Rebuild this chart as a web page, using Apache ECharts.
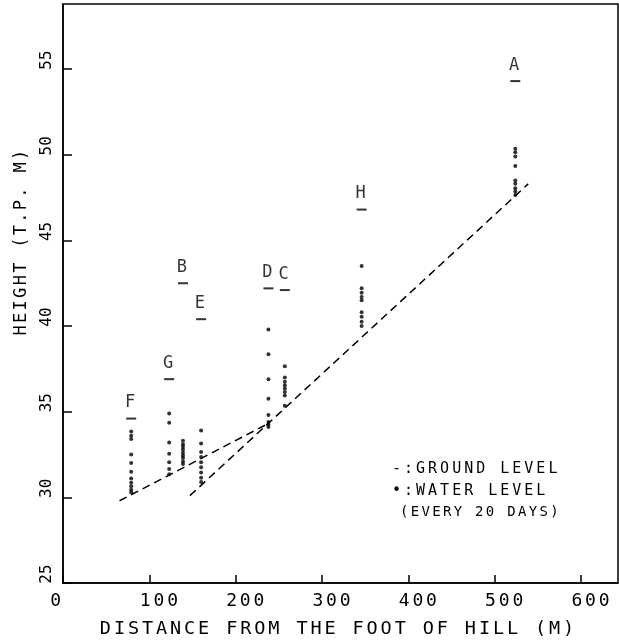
<!DOCTYPE html>
<html>
<head>
<meta charset="utf-8">
<script src="https://cdn.jsdelivr.net/npm/echarts@6/dist/echarts.min.js"></script>
<style>
  html, body { margin: 0; padding: 0; background: #fff; }
  #chart { width: 619px; height: 641px; }
</style>
</head>
<body>
<div id="chart"></div>
<script>
// Observation wells along the slope: name, distance from the foot of the hill (m), ground level (m)
const stations = ['F', 'G', 'B', 'E', 'D', 'C', 'H', 'A'];
const distances = [79, 123, 139, 160, 238, 257, 346, 524];
const groundLevels = [34.6, 36.9, 42.5, 40.4, 42.2, 42.1, 46.8, 54.3];

// Water level readings, one every 20 days (m)
const waterF = [33.85, 33.6, 33.4, 32.5, 32.0, 31.5, 31.1, 30.85, 30.65, 30.45, 30.3];
const waterG = [34.9, 34.35, 33.2, 32.55, 32.05, 31.65, 31.35];
const waterB = [33.3, 33.1, 32.95, 32.8, 32.6, 32.45, 32.3, 32.1, 31.95];
const waterE = [33.9, 33.15, 32.65, 32.35, 32.05, 31.75, 31.45, 31.15, 30.9];
const waterD = [39.8, 38.35, 36.9, 35.75, 34.8, 34.4, 34.25, 34.1];
const waterC = [37.65, 37.0, 36.75, 36.55, 36.35, 36.15, 35.95, 35.35];
const waterH = [43.5, 42.2, 41.95, 41.7, 41.5, 40.8, 40.55, 40.25, 40.0];
const waterA = [50.35, 50.15, 49.9, 49.35, 48.5, 48.3, 48.05, 47.85, 47.65];

// Dashed slope profiles
const profileLower = [[65.5, 29.8], [237.6, 34.3]];
const profileUpper = [[147, 30.1], [539, 48.3]];

// Axis ticks
const xTicks = [0, 100, 200, 300, 400, 500, 600];
const yTicks = [25, 30, 35, 40, 45, 50, 55];

const legendLines = ['-:GROUND LEVEL', '\u2022:WATER LEVEL', '(EVERY 20 DAYS)'];

// Plotter-style lettering: wide tracking, keyed by font size
const TRACKING = { 14: 2.3, 15: 3.0, 16: 0, 17: 2.3, 18: 2.8, 18.5: 2.9 };
(function () {
  const proto = CanvasRenderingContext2D.prototype;
  const desc = Object.getOwnPropertyDescriptor(proto, 'font');
  if (!desc || !('letterSpacing' in proto)) return;
  Object.defineProperty(proto, 'font', {
    configurable: true,
    get() { return desc.get.call(this); },
    set(v) {
      desc.set.call(this, v);
      const m = /(\d+(?:\.\d+)?)px/.exec(v);
      const size = m ? parseFloat(m[1]) : 12;
      this.letterSpacing = (TRACKING[size] || 0) + 'px';
    }
  });
})();

const FONT = '"DejaVu Sans Mono", monospace';

const waterSets = [waterF, waterG, waterB, waterE, waterD, waterC, waterH, waterA];
const waterPoints = [];
waterSets.forEach((vals, i) => vals.forEach(v => waterPoints.push([distances[i], v])));
const groundPoints = stations.map((s, i) => ({ name: s, value: [distances[i], groundLevels[i]] }));

const chart = echarts.init(document.getElementById('chart'), null, { renderer: 'canvas' });
chart.setOption({
  animation: false,
  backgroundColor: '#fff',
  grid: {
    left: 63, right: 1, top: 4, bottom: 58,
    containLabel: false,
    outerBoundsMode: 'none',
    show: true, borderColor: '#000', borderWidth: 1.5
  },
  xAxis: {
    type: 'value',
    min: xTicks[0], max: 643, interval: xTicks[1] - xTicks[0],
    splitLine: { show: false },
    axisLine: { lineStyle: { color: '#000', width: 1.5 } },
    axisTick: { inside: true, length: 8, lineStyle: { color: '#000', width: 1.5 } },
    axisLabel: {
      showMaxLabel: false,
      margin: 8,
      color: '#000',
      fontFamily: FONT,
      fontSize: 18,
      formatter: v => (v === 0 ? '{z|0}' : '{n|' + v + '}'),
      rich: {
        z: { fontFamily: FONT, fontSize: 18, color: '#000', padding: [0, 12, 0, 0] },
        n: { fontFamily: FONT, fontSize: 18, color: '#000', padding: [0, 0, 0, 22] }
      }
    },
    name: 'DISTANCE FROM THE FOOT OF HILL (M)',
    nameLocation: 'middle',
    nameGap: 35,
    nameTextStyle: { color: '#000', fontFamily: FONT, fontSize: 18.5, padding: [0, 4, 0, 0] }
  },
  yAxis: {
    type: 'value',
    min: yTicks[0], max: 58.8, interval: yTicks[1] - yTicks[0],
    splitLine: { show: false },
    axisLine: { lineStyle: { color: '#000', width: 1.5 } },
    axisTick: { inside: true, length: 9, lineStyle: { color: '#000', width: 1.5 } },
    axisLabel: {
      showMaxLabel: false,
      rotate: 90,
      margin: 8,
      color: '#000',
      fontFamily: FONT,
      fontSize: 16,
      formatter: v => '{y|' + v + '}',
      rich: {
        y: { fontFamily: FONT, fontSize: 16, color: '#000', padding: [0, 0, 0, 18] }
      }
    },
    name: 'HEIGHT (T.P. M)',
    nameLocation: 'middle',
    nameRotate: 90,
    nameGap: 32,
    nameTextStyle: { color: '#000', fontFamily: FONT, fontSize: 17, padding: [0, 0, 0, 104] }
  },
  graphic: legendLines.map((t, i) => ({
    type: 'text',
    left: i === 2 ? 400 : 392,
    top: 460 + i * 22,
    style: { text: t, fill: '#000', font: (i === 2 ? '14px ' : '15px ') + FONT }
  })),
  series: [
    {
      type: 'line', data: profileLower, symbol: 'none', silent: true,
      lineStyle: { color: '#000', width: 1.5, type: [8, 5] }
    },
    {
      type: 'line', data: profileUpper, symbol: 'none', silent: true,
      lineStyle: { color: '#000', width: 1.5, type: [8, 5] }
    },
    {
      type: 'scatter', data: waterPoints,
      symbol: 'circle', symbolSize: 4,
      itemStyle: { color: '#000' }
    },
    {
      type: 'scatter', data: groundPoints,
      symbol: 'rect', symbolSize: [10, 2],
      itemStyle: { color: '#000' },
      label: {
        show: true, position: 'top', distance: 5,
        formatter: '{b}', color: '#000', fontFamily: FONT, fontSize: 17
      }
    }
  ]
});
</script>
</body>
</html>
